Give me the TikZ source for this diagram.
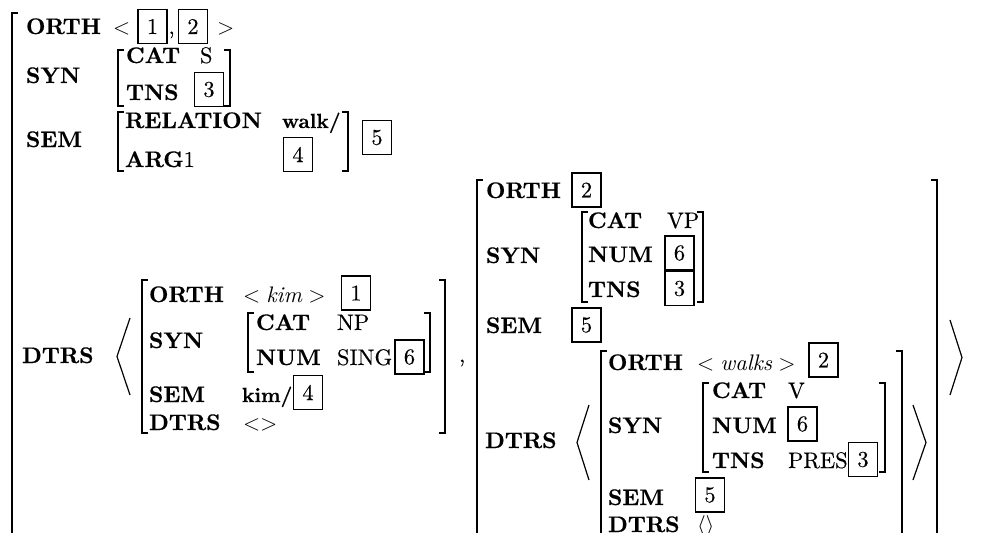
\RequirePackage{fix-cm}
\documentclass[tikz,border=0pt]{standalone}
\usepackage{fontspec}
\setmainfont{lmroman10-regular.otf}[BoldFont=lmroman10-bold.otf,ItalicFont=lmroman10-italic.otf,BoldItalicFont=lmroman10-bolditalic.otf,UprightFeatures={FakeBold=0.3},BoldFeatures={FakeBold=0.5}]
\begin{document}
\begin{tikzpicture}[x=1pt,y=-1pt,
  every node/.style={inner sep=0pt,outer sep=0pt},
  feat/.style={anchor=base west,font=\fontsize{22.5}{26}\selectfont\bfseries},
  lfeat/.style={anchor=base west,font=\fontsize{20.5}{24}\selectfont\bfseries},
  val/.style={anchor=base west,font=\fontsize{22.5}{26}\selectfont},
  numbox/.style={draw,line width=1.6pt,minimum width=29pt,minimum height=34pt,font=\fontsize{22.5}{26}\selectfont},
  brk/.style={line width=1.3pt},
  obrk/.style={line width=2.2pt},
  ang/.style={line width=1.2pt}]
\useasboundingbox (0,0) rectangle (989,533);
\clip (0,0) rectangle (989,533);
% ---------- outer AVM ----------
\draw[obrk] (18,13) -- (12,13) -- (12,540);
\node[feat] (oorth) at (26,34) {ORTH};
\node[val] (olt) at (113,34) {$<$};
\node[numbox] (ob1) at (152.5,26.5) {1};
\node[val] (ocomma) at (168.5,34) {,};
\node[numbox] (ob2) at (193,26.5) {2};
\node[val] (ogt) at (217,34) {$>$};
\node[feat] (osyn) at (26,83) {SYN};
\draw[brk] (124,50) -- (118,50) -- (118,106) -- (124,106);
\draw[brk] (224,50) -- (230,50) -- (230,106) -- (224,106);
\node[feat] (ocat) at (126,63) {CAT};
\node[val] (os) at (200,63) {S};
\node[feat] (otns) at (126,100) {TNS};
\node[numbox] (ob3) at (209,89.5) {3};
\node[feat] (osem) at (26,147) {SEM};
\draw[brk] (124,112) -- (118,112) -- (118,171) -- (124,171);
\draw[brk] (342,112) -- (348,112) -- (348,171) -- (342,171);
\node[feat] (orel) at (125,128) {RELATION};
\node[lfeat] (owalk) at (282,128) {walk/};
\node[feat] (oarg) at (125,167) {ARG\mdseries 1};
\node[numbox] (ob4) at (298,154.5) {4};
\node[numbox] (ob5) at (377,137.5) {5};
\node[feat] (odtrs) at (22,363) {DTRS};
\draw[ang] (130,318) -- (117,356.5) -- (130,395);
% ---------- kim ----------
\draw[brk] (148,280) -- (142,280) -- (142,433) -- (148,433);
\draw[brk] (439,280) -- (445,280) -- (445,433) -- (439,433);
\node[feat] (korth) at (149,302) {ORTH};
\node[val] (kkim) at (243,302) {$<\mathit{kim}>$};
\node[numbox] (kb1) at (356,293) {1};
\node[feat] (ksyn) at (149,348) {SYN};
\draw[brk] (254,313) -- (248,313) -- (248,372) -- (254,372);
\draw[brk] (424,313) -- (430,313) -- (430,372) -- (424,372);
\node[feat] (kcat) at (256,330) {CAT};
\node[val] (knp) at (337,330) {NP};
\node[feat] (knum) at (256,365) {NUM};
\node[val] (ksing) at (337,365) {SING};
\node[numbox] (kb6) at (409.5,357) {6};
\node[feat] (ksem) at (149,402) {SEM};
\node[lfeat] (kkims) at (242,402) {kim/};
\node[numbox] (kb4) at (308,392.5) {4};
\node[feat] (kdtrs) at (149,430) {DTRS};
\node[val] (kempty) at (243,430) {$<>$};
\node[val] (dcomma) at (459,362) {,};
% ---------- VP ----------
\draw[brk] (483,180) -- (477,180) -- (477,540);
\draw[brk] (931,180) -- (937,180) -- (937,540);
\node[feat] (vorth) at (486,198) {ORTH};
\node[numbox] (vb2) at (586.5,190) {2};
\node[feat] (vsyn) at (486,263) {SYN};
\draw[brk] (588,212) -- (582,212) -- (582,302) -- (588,302);
\draw[brk] (697,212) -- (703,212) -- (703,302) -- (697,302);
\node[feat] (vcat) at (588,228) {CAT};
\node[val] (vvp) at (667,228) {VP};
\node[feat] (vnum) at (588,262) {NUM};
\node[numbox] (vb6) at (679.5,253) {6};
\node[feat] (vtns) at (588,297) {TNS};
\node[numbox] (vb3) at (679.5,288.5) {3};
\node[feat] (vsem) at (486,333) {SEM};
\node[numbox] (vb5) at (586.5,325) {5};
\node[feat] (vdtrs) at (485,448) {DTRS};
\draw[ang] (589,405) -- (577,442.5) -- (589,480);
% ---------- walks ----------
\draw[brk] (607,351) -- (601,351) -- (601,540);
\draw[brk] (896,351) -- (902,351) -- (902,540);
\node[feat] (worth) at (608,370) {ORTH};
\node[val] (wwalks) at (697,370) {$<\mathit{walks}>$};
\node[numbox] (wb2) at (823.5,360) {2};
\node[feat] (wsyn) at (608,433) {SYN};
\draw[brk] (709,383) -- (703,383) -- (703,472) -- (709,472);
\draw[brk] (879,383) -- (885,383) -- (885,472) -- (879,472);
\node[feat] (wcat) at (712,398) {CAT};
\node[val] (wv) at (788,398) {V};
\node[feat] (wnum) at (712,433) {NUM};
\node[numbox] (wb6) at (802.5,424) {6};
\node[feat] (wtns) at (712,468) {TNS};
\node[val] (wpres) at (788,468) {PRES};
\node[numbox] (wb3) at (863,459.5) {3};
\node[feat] (wsem) at (608,505) {SEM};
\node[numbox] (wb5) at (710,495) {5};
\node[feat] (wdtrs) at (608,532) {DTRS};
\node[val] (wempty) at (697,532) {$\langle\rangle$};
\draw[ang] (913,405) -- (926,442.5) -- (913,480);
% ---------- closing list angle ----------
\draw[ang] (950,320) -- (962,357.5) -- (950,395);
\end{tikzpicture}
\end{document}
